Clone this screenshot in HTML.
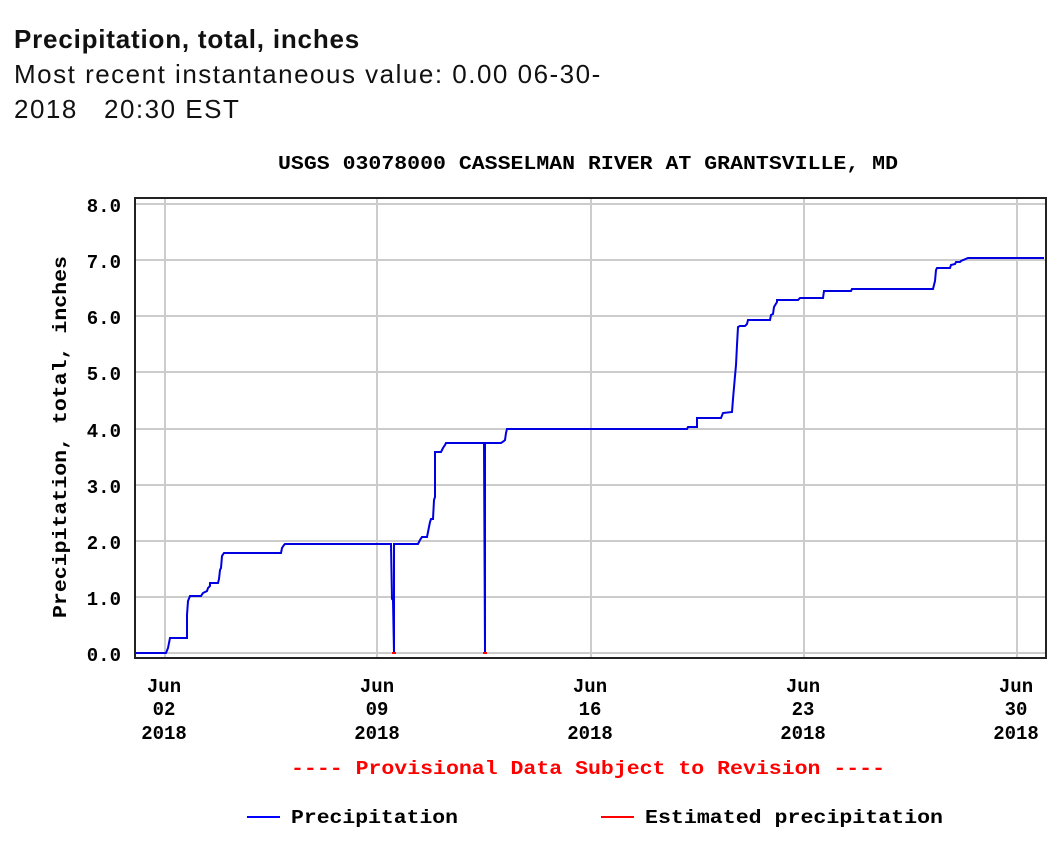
<!DOCTYPE html>
<html><head><meta charset="utf-8"><style>
body{margin:0;background:#fff;width:1062px;height:852px;overflow:hidden;font-family:"Liberation Sans",sans-serif;}
.h{position:absolute;left:14px;color:#111;font-size:26px;line-height:35px;letter-spacing:1.5px;}
.h b{letter-spacing:0.8px;}
svg{position:absolute;left:0;top:0}
svg text{font-family:"Liberation Mono",monospace;font-weight:bold;font-size:19px;}
</style></head><body>
<div class="h" style="top:22px"><b>Precipitation, total, inches</b><br>Most recent instantaneous value: 0.00 06-30-<br>2018&nbsp;&nbsp;&nbsp;20:30 EST</div>
<svg width="1062" height="852">
<text x="278" y="169" textLength="620" lengthAdjust="spacingAndGlyphs">USGS 03078000 CASSELMAN RIVER AT GRANTSVILLE, MD</text>
<g stroke="#ccc" stroke-width="2">
<line x1="135" x2="1045" y1="204" y2="204"/><line x1="135" x2="1045" y1="260" y2="260"/><line x1="135" x2="1045" y1="316" y2="316"/><line x1="135" x2="1045" y1="372" y2="372"/><line x1="135" x2="1045" y1="429" y2="429"/><line x1="135" x2="1045" y1="485" y2="485"/><line x1="135" x2="1045" y1="541" y2="541"/><line x1="135" x2="1045" y1="597" y2="597"/><line x1="135" x2="1045" y1="653" y2="653"/>
<line x1="165" x2="165" y1="198" y2="658"/><line x1="377" x2="377" y1="198" y2="658"/><line x1="591" x2="591" y1="198" y2="658"/><line x1="804" x2="804" y1="198" y2="658"/><line x1="1017" x2="1017" y1="198" y2="658"/>
</g>
<rect x="135" y="198" width="911" height="460" fill="none" stroke="#222" stroke-width="2"/>
<g text-anchor="end">
<text x="121" y="212">8.0</text><text x="121" y="268">7.0</text><text x="121" y="324">6.0</text><text x="121" y="380">5.0</text><text x="121" y="437">4.0</text><text x="121" y="493">3.0</text><text x="121" y="549">2.0</text><text x="121" y="605">1.0</text><text x="121" y="661">0.0</text>
</g>
<text transform="translate(66,437) rotate(-90)" text-anchor="middle" textLength="362" lengthAdjust="spacingAndGlyphs">Precipitation, total, inches</text>
<g text-anchor="middle">
<text x="164" y="692">Jun</text><text x="164" y="715">02</text><text x="164" y="739">2018</text>
<text x="377" y="692">Jun</text><text x="377" y="715">09</text><text x="377" y="739">2018</text>
<text x="590" y="692">Jun</text><text x="590" y="715">16</text><text x="590" y="739">2018</text>
<text x="803" y="692">Jun</text><text x="803" y="715">23</text><text x="803" y="739">2018</text>
<text x="1016" y="692">Jun</text><text x="1016" y="715">30</text><text x="1016" y="739">2018</text>
</g>
<text x="291" y="774" fill="#f00" textLength="594" lengthAdjust="spacingAndGlyphs">---- Provisional Data Subject to Revision ----</text>
<line x1="247" x2="280" y1="817" y2="817" stroke="#00f" stroke-width="2"/>
<text x="291" y="823" textLength="167" lengthAdjust="spacingAndGlyphs">Precipitation</text>
<line x1="601" x2="634" y1="817" y2="817" stroke="#f00" stroke-width="2"/>
<text x="645" y="823" textLength="298" lengthAdjust="spacingAndGlyphs">Estimated precipitation</text>
<polyline fill="none" stroke="#0000e0" stroke-width="2" points="136,653 166,653 168,648 170,638 187,638 187,615 188,601 190,596 201,596 203,593 207,591 208,588 210,586 210,583 218,583 219,579 220,570 221,568 222,556 224,553 281,553 282,548 284,545 285,544 391,544 392,599 393,600 394,653 394,544 418,544 420,540 422,537 427,537 428,532 429,527 430,522 431,519 433,519 434,500 435,497 435,452 441,452 443,448 445,445 446,443 484,443 485,653 485,443 501,443 504,441 505,440 506,433 507,429 687,429 688,427 697,427 697,418 721,418 723,413 732,412 733,399 735,376 736,365 737,345 738,327 740,326 745,326 747,324 748,320 770,320 771,315 773,314 774,307 777,302 777,300 798,300 800,298 823,298 824,291 851,291 852,289 933,289 934,285 935,281 936,270 937,268 950,268 951,265 955,264 956,262 960,262 961,261 968,258 1044,258"/>
<line x1="392" x2="396" y1="653" y2="653" stroke="#f00" stroke-width="2"/>
<line x1="483" x2="487" y1="653" y2="653" stroke="#f00" stroke-width="2"/>
</svg>
</body></html>
